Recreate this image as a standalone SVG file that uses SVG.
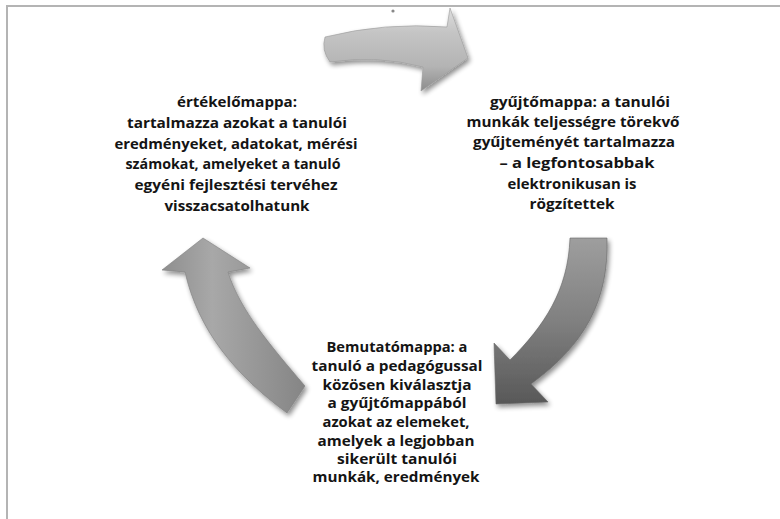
<svg xmlns="http://www.w3.org/2000/svg" width="780" height="519" viewBox="0 0 780 519">
<style>
.t{font-family:"Open Sans","Liberation Sans",sans-serif;font-weight:bold;font-size:15px;fill:#141414;text-anchor:middle}
.b{font-size:13.5px}
.frame{stroke:#b4b4b4;stroke-width:2;fill:none}
</style>
<defs>
<filter id="sh" x="-20%" y="-20%" width="150%" height="150%">
<feGaussianBlur in="SourceAlpha" stdDeviation="2.5"/>
<feOffset dx="2" dy="3" result="b"/>
<feComponentTransfer><feFuncA type="linear" slope="0.45"/></feComponentTransfer>
<feMerge><feMergeNode/><feMergeNode in="SourceGraphic"/></feMerge>
</filter>
<linearGradient id="gTop" x1="0" y1="0" x2="0" y2="1">
<stop offset="0" stop-color="#dedede"/><stop offset="0.3" stop-color="#c4c4c4"/><stop offset="0.7" stop-color="#b4b4b4"/><stop offset="1" stop-color="#8c8c8c"/>
</linearGradient>
<linearGradient id="gRight" x1="0" y1="0" x2="0" y2="1">
<stop offset="0" stop-color="#9e9e9e"/><stop offset="0.5" stop-color="#808080"/><stop offset="1" stop-color="#585858"/>
</linearGradient>
<linearGradient id="gLeft" x1="0" y1="0" x2="1" y2="0">
<stop offset="0" stop-color="#8e8e8e"/><stop offset="0.35" stop-color="#a8a8a8"/><stop offset="1" stop-color="#858585"/>
</linearGradient>
</defs>
<rect width="780" height="519" fill="#ffffff"/>
<path class="frame" d="M7,519 V6 H780"/>
<circle cx="393" cy="11" r="1.6" fill="#888"/>
<g id="connectors">
<path id="arrow-top" filter="url(#sh)" fill="url(#gTop)" stroke="#999" stroke-width="0.6" d="M325,37 Q385,22 447,27 L450,8 L468,58 L421,91 L423,67 Q378,55 330,62 Q321,50 325,37 Z"/>
<path id="arrow-right" filter="url(#sh)" fill="url(#gRight)" stroke="#666" stroke-width="0.6" d="M570,238 L607,238 C609,300 585,345 531,384 L548,402 L496,404 L494,343 L510,360 C545,325 568,290 570,238 Z"/>
<path id="arrow-left" filter="url(#sh)" fill="url(#gLeft)" stroke="#808080" stroke-width="0.6" d="M287,413 L305,386 C270,345 240,310 228,272 L250,268 L203,238 L162,270 L185,272 C198,330 235,375 287,413 Z"/>
</g>
<g id="node-ertekelo">
<text class="t" x="237" y="107" textLength="120" lengthAdjust="spacingAndGlyphs">értékelőmappa:</text>
<text class="t" x="237" y="128" textLength="220" lengthAdjust="spacingAndGlyphs">tartalmazza azokat a tanulói</text>
<text class="t" x="236" y="149" textLength="243" lengthAdjust="spacingAndGlyphs">eredményeket, adatokat, mérési</text>
<text class="t" x="233" y="169" textLength="215" lengthAdjust="spacingAndGlyphs">számokat, amelyeket a tanuló</text>
<text class="t" x="236" y="190" textLength="203" lengthAdjust="spacingAndGlyphs">egyéni fejlesztési tervéhez</text>
<text class="t" x="237" y="211" textLength="145" lengthAdjust="spacingAndGlyphs">visszacsatolhatunk</text>
</g>
<g id="node-gyujto">
<text class="t" x="580" y="107" textLength="180" lengthAdjust="spacingAndGlyphs">gyűjtőmappa: a tanulói</text>
<text class="t" x="573" y="127" textLength="213" lengthAdjust="spacingAndGlyphs">munkák teljességre törekvő</text>
<text class="t" x="574" y="147" textLength="202" lengthAdjust="spacingAndGlyphs">gyűjteményét tartalmazza</text>
<text class="t" x="577" y="168" textLength="155" lengthAdjust="spacingAndGlyphs">– a legfontosabbak</text>
<text class="t" x="572" y="189" textLength="129" lengthAdjust="spacingAndGlyphs">elektronikusan is</text>
<text class="t" x="572" y="209" textLength="85" lengthAdjust="spacingAndGlyphs">rögzítettek</text>
</g>
<g id="node-bemutato">
<text class="t b" x="397" y="352" textLength="141" lengthAdjust="spacingAndGlyphs">Bemutatómappa: a</text>
<text class="t b" x="397" y="371" textLength="171" lengthAdjust="spacingAndGlyphs">tanuló a pedagógussal</text>
<text class="t b" x="397" y="390" textLength="149" lengthAdjust="spacingAndGlyphs">közösen kiválasztja</text>
<text class="t b" x="397" y="408" textLength="139" lengthAdjust="spacingAndGlyphs">a gyűjtőmappából</text>
<text class="t b" x="396" y="427" textLength="147" lengthAdjust="spacingAndGlyphs">azokat az elemeket,</text>
<text class="t b" x="396" y="446" textLength="157" lengthAdjust="spacingAndGlyphs">amelyek a legjobban</text>
<text class="t b" x="397" y="464" textLength="120" lengthAdjust="spacingAndGlyphs">sikerült tanulói</text>
<text class="t b" x="396" y="482" textLength="167" lengthAdjust="spacingAndGlyphs">munkák, eredmények</text>
</g>
</svg>
